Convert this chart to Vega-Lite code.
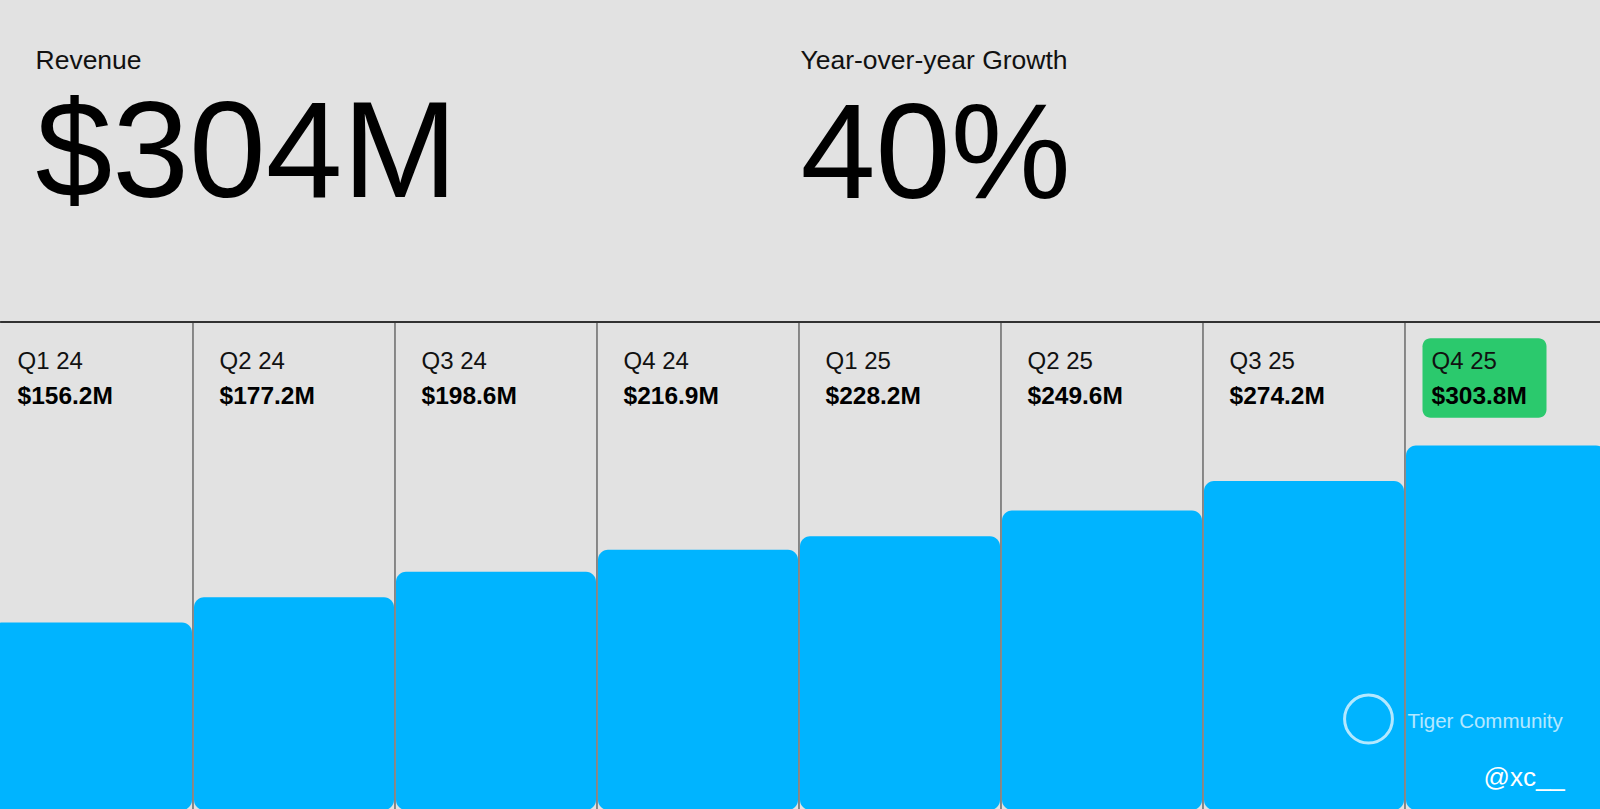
{
  "$schema": "https://vega.github.io/schema/vega-lite/v6.json",
  "background": "#e2e2e2",
  "padding": {"top": 47, "left": -8.5, "right": -5.5, "bottom": 0},
  "spacing": 0,
  "config": {
    "view": {"stroke": null},
    "font": "Liberation Sans",
    "title": {
      "anchor": "start",
      "dx": 35,
      "offset": 0,
      "fontSize": 26.5,
      "fontWeight": "normal",
      "color": "#111111",
      "subtitleFontSize": 135,
      "subtitleColor": "#000000",
      "subtitlePadding": 16,
      "subtitleFont": "Liberation Sans",
      "font": "Liberation Sans"
    }
  },
  "datasets": {
    "rev": [
      {"quarter": "Q1 24", "revenue": 156200000},
      {"quarter": "Q2 24", "revenue": 177200000},
      {"quarter": "Q3 24", "revenue": 198600000},
      {"quarter": "Q4 24", "revenue": 216900000},
      {"quarter": "Q1 25", "revenue": 228200000},
      {"quarter": "Q2 25", "revenue": 249600000},
      {"quarter": "Q3 25", "revenue": 274200000},
      {"quarter": "Q4 25", "revenue": 303800000}
    ]
  },
  "vconcat": [
    {
      "spacing": 0,
      "hconcat": [
        {
          "width": 765,
          "height": 91.5,
          "title": {"text": "Revenue", "subtitle": "$304M", "subtitleFontSize": 138, "subtitlePadding": 14},
          "data": {"values": [{"t": ""}]},
          "mark": "text",
          "encoding": {"text": {"field": "t"}}
        },
        {
          "width": 835,
          "height": 91.5,
          "title": {"text": "Year-over-year Growth", "subtitle": "40%", "subtitleFontSize": 135, "subtitlePadding": 17},
          "data": {"values": [{"t": ""}]},
          "mark": "text",
          "encoding": {"text": {"field": "t"}}
        }
      ]
    },
    {
      "width": 1600,
      "height": 488,
      "data": {"name": "rev"},
      "layer": [
        {
          "transform": [{"filter": "datum.quarter !== 'Q1 24'"}],
          "mark": {"type": "rule", "color": "#2e2e2e", "strokeWidth": 1, "xOffset": -1},
          "encoding": {
            "x": {"field": "quarter", "type": "nominal", "sort": null, "bandPosition": 0,
              "scale": {"domain": ["Q1 24", "Q2 24", "Q3 24", "Q4 24", "Q1 25", "Q2 25", "Q3 25", "Q4 25"], "range": [-8.5, 1605.5], "paddingInner": 0.0099, "paddingOuter": 0},
              "axis": null}
          }
        },
        {
          "mark": {"type": "bar", "color": "#00b4ff", "cornerRadius": 10},
          "encoding": {
            "x": {"field": "quarter", "type": "nominal", "sort": null},
            "y": {"field": "revenue", "type": "quantitative", "stack": null,
              "scale": {"domain": [0, 406666667], "nice": false, "zero": true},
              "axis": null}
          }
        },
        {
          "mark": {"type": "rule", "color": "#333333", "strokeWidth": 1},
          "encoding": {"y": {"datum": 406666667, "type": "quantitative"}}
        },
        {
          "mark": {"type": "rule", "color": "#4a4a4a", "strokeWidth": 1.5},
          "encoding": {"y": {"datum": 0, "type": "quantitative"}}
        },
        {
          "transform": [{"filter": "datum.quarter === 'Q4 25'"}],
          "mark": {"type": "bar", "color": "#2bc96d", "width": 124, "xOffset": -21.5, "cornerRadius": 8},
          "encoding": {
            "x": {"field": "quarter", "type": "nominal", "sort": null},
            "y": {"datum": 393100000, "type": "quantitative"},
            "y2": {"datum": 326900000}
          }
        },
        {
          "mark": {"type": "text", "align": "left", "baseline": "alphabetic", "dx": 25.5, "fontSize": 24, "color": "#111111"},
          "encoding": {
            "x": {"field": "quarter", "type": "nominal", "sort": null, "bandPosition": 0},
            "y": {"datum": 367500000, "type": "quantitative"},
            "text": {"field": "quarter"}
          }
        },
        {
          "mark": {"type": "text", "align": "left", "baseline": "alphabetic", "dx": 25.5, "fontSize": 24.5, "fontWeight": "bold", "color": "#000000"},
          "encoding": {
            "x": {"field": "quarter", "type": "nominal", "sort": null, "bandPosition": 0},
            "y": {"datum": 338300000, "type": "quantitative"},
            "text": {"field": "revenue", "type": "quantitative", "format": "$.4s"}
          }
        },
        {
          "transform": [{"filter": "datum.quarter === 'Q4 25'"}],
          "mark": {"type": "point", "shape": "circle", "filled": false, "size": 2290, "stroke": "#ffffff", "strokeWidth": 3, "opacity": 0.7, "xOffset": -37.5},
          "encoding": {
            "x": {"field": "quarter", "type": "nominal", "sort": null, "bandPosition": 0},
            "y": {"datum": 75800000, "type": "quantitative"}
          }
        },
        {
          "transform": [{"filter": "datum.quarter === 'Q4 25'"}],
          "mark": {"type": "text", "align": "left", "baseline": "alphabetic", "dx": 1.5, "fontSize": 20.5, "color": "#ffffff", "opacity": 0.7},
          "encoding": {
            "x": {"field": "quarter", "type": "nominal", "sort": null, "bandPosition": 0},
            "y": {"datum": 68600000, "type": "quantitative"},
            "text": {"value": "Tiger Community"}
          }
        },
        {
          "transform": [{"filter": "datum.quarter === 'Q4 25'"}],
          "mark": {"type": "text", "align": "left", "baseline": "alphabetic", "dx": 77.5, "fontSize": 26, "color": "#ffffff"},
          "encoding": {
            "x": {"field": "quarter", "type": "nominal", "sort": null, "bandPosition": 0},
            "y": {"datum": 20000000, "type": "quantitative"},
            "text": {"value": "@xc__"}
          }
        }
      ]
    }
  ]
}
